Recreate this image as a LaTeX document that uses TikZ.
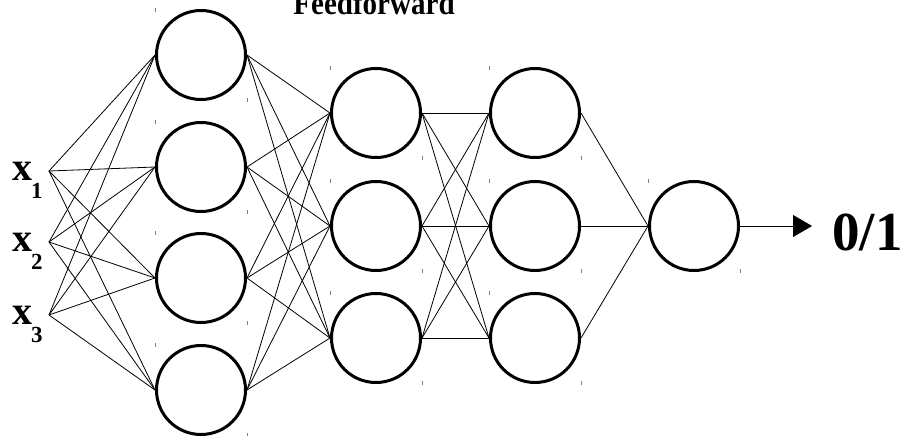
\documentclass[tikz,border=0pt]{standalone}
\usepackage{fontspec}
\setmainfont{Liberation Serif}
\usetikzlibrary{arrows.meta}
\begin{document}
\begin{tikzpicture}[x=1pt,y=-1pt,
  neuron/.style={circle,draw,line width=3pt,minimum size=89pt,inner sep=0pt},
  link/.style={line width=0.8pt},
  marker/.style={gray,line width=1pt},
  lbl/.style={inner sep=0pt,font=\bfseries}]
\useasboundingbox (0,0) rectangle (907,436);

% neurons, each with its two small selection marks
\foreach \n/\x/\y in {a1/201/55, a2/201/167, a3/201/278, a4/201/390,
                      b1/376/113, b2/376/226, b3/376/338,
                      c1/535/113, c2/535/226, c3/535/338,
                      o/694/226} {
  \node[neuron] (\n) at (\x,\y) {};
  \draw[marker] ([shift={(-46,-47)}]\n.center) -- ++(0,4);
  \draw[marker] ([shift={(46,43)}]\n.center) -- ++(0,4);
}

% input points
\coordinate (i1) at (49,171);
\coordinate (i2) at (49,242);
\coordinate (i3) at (49,315);

% input labels
\node[lbl,anchor=base west,font=\bfseries\fontsize{40}{40}\selectfont] (x1) at (12,180)
  {x\kern-1pt\raisebox{-18pt}{\fontsize{23}{23}\selectfont 1}};
\node[lbl,anchor=base west,font=\bfseries\fontsize{40}{40}\selectfont] (x2) at (12,251)
  {x\kern-1pt\raisebox{-18pt}{\fontsize{23}{23}\selectfont 2}};
\node[lbl,anchor=base west,font=\bfseries\fontsize{40}{40}\selectfont] (x3) at (12,324)
  {x\kern-1pt\raisebox{-18pt}{\fontsize{23}{23}\selectfont 3}};

% connections
\foreach \s in {i1,i2,i3}
  \foreach \t in {a1,a2,a3,a4}
    \draw[link] (\s) -- (\t.west);
\foreach \s in {a1,a2,a3,a4}
  \foreach \t in {b1,b2,b3}
    \draw[link] (\s.east) -- (\t.west);
\foreach \s in {b1,b2,b3}
  \foreach \t in {c1,c2,c3}
    \draw[link] (\s.east) -- (\t.west);
\foreach \s in {c1,c2,c3}
  \draw[link] (\s.east) -- (o.west);

% output
\coordinate (tip) at (812,226);
\draw[link,-{Triangle[length=19pt,width=22pt]}] (o.east) -- (tip);
\node[lbl,anchor=base west,font=\bfseries\fontsize{55}{55}\selectfont] (out) at (832,250) {0/1};

% title, running off the top edge
\node[lbl,anchor=base,font=\bfseries\fontsize{33}{33}\selectfont] (title) at (374,15)
  {\scalebox{0.88}[1]{Feedforward}};
\end{tikzpicture}
\end{document}
